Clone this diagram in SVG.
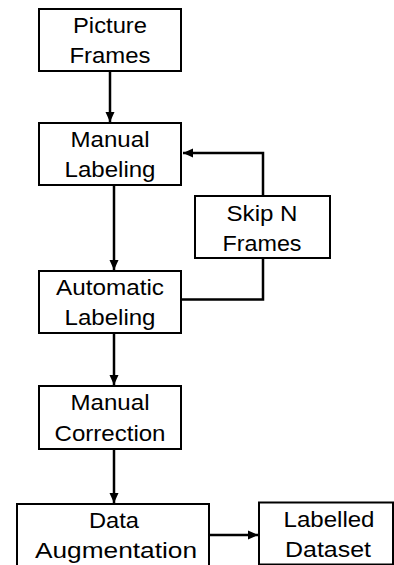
<svg xmlns="http://www.w3.org/2000/svg" width="394" height="565" viewBox="0 0 394 565">
<defs>
<marker id="ah" viewBox="0 0 10 10" refX="10" refY="5" markerWidth="10" markerHeight="10" markerUnits="userSpaceOnUse" orient="auto">
<path d="M0,0.5 L10,5 L0,9.5 z" fill="#000"/>
</marker>
<style>
.box{fill:#fff;stroke:#000;stroke-width:2}
.t{font-family:"Liberation Sans",Arial,sans-serif;font-size:22px;fill:#000;text-anchor:middle}
.c{fill:none;stroke:#000;stroke-width:2.5}
</style>
</defs>
<rect width="394" height="565" fill="#fff"/>
<g id="connectors">
<line class="c" x1="110" y1="71" x2="110" y2="122" marker-end="url(#ah)"/>
<line class="c" x1="114" y1="185" x2="114" y2="270" marker-end="url(#ah)"/>
<line class="c" x1="114" y1="333" x2="114" y2="385" marker-end="url(#ah)"/>
<line class="c" x1="114" y1="449" x2="114" y2="503" marker-end="url(#ah)"/>
<line class="c" x1="209" y1="535" x2="258" y2="535" marker-end="url(#ah)"/>
<polyline class="c" points="263,196 263,153 183,153" marker-end="url(#ah)"/>
<polyline class="c" points="181,299.5 263,299.5 263,258"/>
</g>
<g id="picture-frames">
<rect class="box" x="39" y="9" width="142" height="62"/>
<text class="t" x="110" y="33" textLength="74" lengthAdjust="spacingAndGlyphs">Picture</text>
<text class="t" x="110" y="63" textLength="81" lengthAdjust="spacingAndGlyphs">Frames</text>
</g>
<g id="manual-labeling">
<rect class="box" x="39" y="123" width="142" height="62"/>
<text class="t" x="110" y="147" textLength="79" lengthAdjust="spacingAndGlyphs">Manual</text>
<text class="t" x="110" y="177" textLength="91" lengthAdjust="spacingAndGlyphs">Labeling</text>
</g>
<g id="skip-n-frames">
<rect class="box" x="195" y="196" width="135" height="62"/>
<text class="t" x="262" y="221" textLength="71" lengthAdjust="spacingAndGlyphs">Skip N</text>
<text class="t" x="262" y="251" textLength="79" lengthAdjust="spacingAndGlyphs">Frames</text>
</g>
<g id="automatic-labeling">
<rect class="box" x="39" y="271" width="142" height="62"/>
<text class="t" x="110" y="295" textLength="108" lengthAdjust="spacingAndGlyphs">Automatic</text>
<text class="t" x="110" y="325" textLength="91" lengthAdjust="spacingAndGlyphs">Labeling</text>
</g>
<g id="manual-correction">
<rect class="box" x="39" y="386" width="142" height="63"/>
<text class="t" x="110" y="410" textLength="79" lengthAdjust="spacingAndGlyphs">Manual</text>
<text class="t" x="110" y="441" textLength="111" lengthAdjust="spacingAndGlyphs">Correction</text>
</g>
<g id="data-augmentation">
<rect class="box" x="17" y="504" width="192" height="70"/>
<text class="t" x="114" y="528" textLength="50" lengthAdjust="spacingAndGlyphs">Data</text>
<text class="t" x="116" y="558" textLength="162" lengthAdjust="spacingAndGlyphs">Augmentation</text>
</g>
<g id="labelled-dataset">
<rect class="box" x="259" y="502.5" width="134" height="62"/>
<text class="t" x="329" y="527" textLength="91" lengthAdjust="spacingAndGlyphs">Labelled</text>
<text class="t" x="328" y="557" textLength="86" lengthAdjust="spacingAndGlyphs">Dataset</text>
</g>
</svg>
